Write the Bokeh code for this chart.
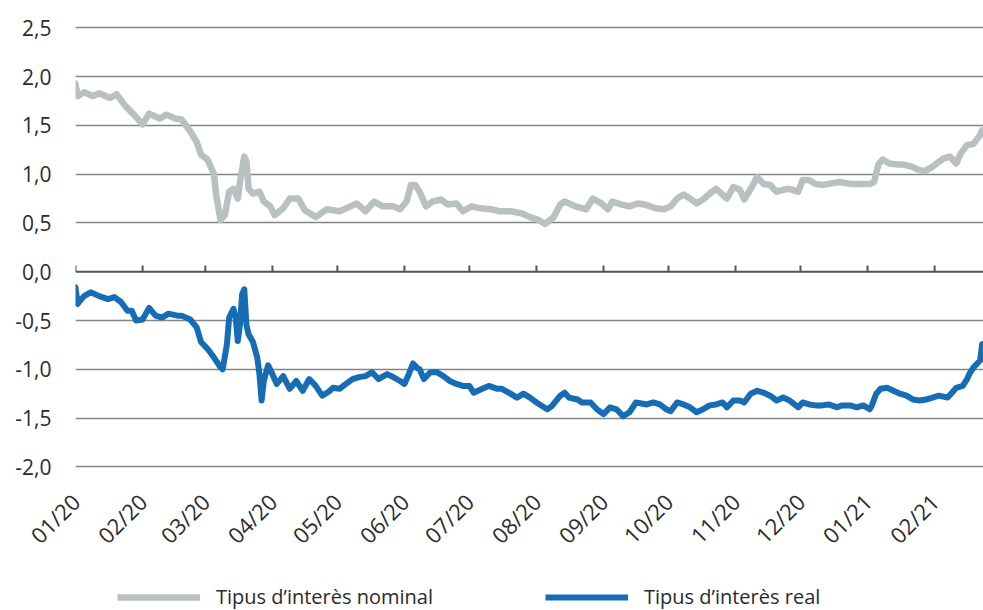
import math
import pandas as pd
from bokeh.plotting import figure
from bokeh.layouts import column
from bokeh.models import (Range1d, FixedTicker, Span, Legend, LegendItem,
                          DatetimeTickFormatter, ColumnDataSource)
from bokeh.embed import file_html
from bokeh.resources import INLINE

# --- Data -----------------------------------------------------------------
# Nominal interest rate (%)
nominal_dates = [
    "2020-01-01", "2020-01-02", "2020-01-05", "2020-01-09", "2020-01-12", "2020-01-17", "2020-01-20", "2020-01-24", "2020-01-28",
    "2020-02-01", "2020-02-04", "2020-02-09", "2020-02-12", "2020-02-16", "2020-02-19", "2020-02-23", "2020-02-26", "2020-02-28",
    "2020-03-02", "2020-03-05", "2020-03-06", "2020-03-08", "2020-03-10", "2020-03-12", "2020-03-14", "2020-03-16", "2020-03-17",
    "2020-03-19", "2020-03-20", "2020-03-21", "2020-03-23", "2020-03-26", "2020-03-28", "2020-03-31",
    "2020-04-02", "2020-04-06", "2020-04-09", "2020-04-13", "2020-04-16", "2020-04-21", "2020-04-26",
    "2020-05-02", "2020-05-07", "2020-05-10", "2020-05-14", "2020-05-18", "2020-05-22", "2020-05-27", "2020-05-30",
    "2020-06-02", "2020-06-04", "2020-06-06", "2020-06-08", "2020-06-11", "2020-06-14", "2020-06-18", "2020-06-21", "2020-06-25", "2020-06-28",
    "2020-07-02", "2020-07-06", "2020-07-11", "2020-07-15", "2020-07-20", "2020-07-25", "2020-07-29",
    "2020-08-02", "2020-08-05", "2020-08-09", "2020-08-12", "2020-08-14", "2020-08-19", "2020-08-24", "2020-08-27", "2020-08-31",
    "2020-09-03", "2020-09-05", "2020-09-09", "2020-09-13", "2020-09-17", "2020-09-20", "2020-09-25", "2020-09-29",
    "2020-10-02", "2020-10-05", "2020-10-08", "2020-10-11", "2020-10-14", "2020-10-17", "2020-10-20", "2020-10-23", "2020-10-26", "2020-10-28", "2020-10-31",
    "2020-11-03", "2020-11-05", "2020-11-08", "2020-11-11", "2020-11-14", "2020-11-17", "2020-11-20", "2020-11-23", "2020-11-26", "2020-11-30",
    "2020-12-02", "2020-12-05", "2020-12-08", "2020-12-11", "2020-12-14", "2020-12-19", "2020-12-24", "2020-12-29",
    "2021-01-02", "2021-01-04", "2021-01-06", "2021-01-08", "2021-01-11", "2021-01-15", "2021-01-17", "2021-01-21", "2021-01-24", "2021-01-27", "2021-01-30",
    "2021-02-02", "2021-02-05", "2021-02-08", "2021-02-11", "2021-02-13", "2021-02-16", "2021-02-19", "2021-02-22", "2021-02-23",
]
nominal_values = [
    1.93, 1.80, 1.84, 1.80, 1.83, 1.78, 1.82, 1.70, 1.61,
    1.51, 1.62, 1.57, 1.61, 1.57, 1.56, 1.44, 1.33, 1.20,
    1.15, 1.00, 0.79, 0.53, 0.58, 0.82, 0.85, 0.75, 0.92,
    1.18, 1.13, 0.85, 0.80, 0.82, 0.72, 0.67,
    0.58, 0.65, 0.75, 0.75, 0.63, 0.56, 0.64,
    0.62, 0.67, 0.70, 0.62, 0.72, 0.67, 0.67, 0.64,
    0.72, 0.89, 0.89, 0.82, 0.67, 0.72, 0.74, 0.69, 0.70, 0.62,
    0.67, 0.65, 0.64, 0.62, 0.62, 0.60, 0.56,
    0.53, 0.49, 0.56, 0.69, 0.72, 0.67, 0.64, 0.75, 0.70,
    0.64, 0.72, 0.69, 0.67, 0.70, 0.69, 0.65, 0.64,
    0.67, 0.75, 0.79, 0.75, 0.70, 0.74, 0.80, 0.85, 0.79, 0.75, 0.87,
    0.84, 0.74, 0.85, 0.97, 0.90, 0.89, 0.82, 0.84, 0.85, 0.82,
    0.94, 0.94, 0.90, 0.89, 0.90, 0.92, 0.90, 0.90,
    0.90, 0.92, 1.10, 1.15, 1.11, 1.10, 1.10, 1.08, 1.05, 1.03, 1.06,
    1.11, 1.16, 1.18, 1.11, 1.21, 1.30, 1.31, 1.40, 1.45,
]

# Real interest rate (%)
real_dates = [
    "2020-01-01", "2020-01-02", "2020-01-03", "2020-01-05", "2020-01-08", "2020-01-12", "2020-01-16", "2020-01-19", "2020-01-22", "2020-01-25", "2020-01-27", "2020-01-29",
    "2020-02-01", "2020-02-04", "2020-02-07", "2020-02-10", "2020-02-13", "2020-02-17", "2020-02-19", "2020-02-23", "2020-02-26", "2020-02-28",
    "2020-03-02", "2020-03-05", "2020-03-08", "2020-03-09", "2020-03-11", "2020-03-12", "2020-03-14", "2020-03-15", "2020-03-16", "2020-03-17",
    "2020-03-18", "2020-03-19", "2020-03-20", "2020-03-21", "2020-03-23", "2020-03-25", "2020-03-26", "2020-03-27", "2020-03-28", "2020-03-30",
    "2020-04-01", "2020-04-03", "2020-04-06", "2020-04-09", "2020-04-12", "2020-04-15", "2020-04-18", "2020-04-21", "2020-04-24", "2020-04-27", "2020-04-29",
    "2020-05-02", "2020-05-05", "2020-05-08", "2020-05-11", "2020-05-14", "2020-05-17", "2020-05-20", "2020-05-24", "2020-05-26", "2020-05-30",
    "2020-06-01", "2020-06-03", "2020-06-05", "2020-06-07", "2020-06-08", "2020-06-10", "2020-06-13", "2020-06-16", "2020-06-19", "2020-06-22", "2020-06-25", "2020-06-28",
    "2020-07-01", "2020-07-03", "2020-07-07", "2020-07-10", "2020-07-14", "2020-07-16", "2020-07-20", "2020-07-23", "2020-07-26", "2020-07-29",
    "2020-08-01", "2020-08-06", "2020-08-08", "2020-08-12", "2020-08-14", "2020-08-16", "2020-08-20", "2020-08-22", "2020-08-26", "2020-08-29",
    "2020-09-01", "2020-09-04", "2020-09-07", "2020-09-10", "2020-09-13", "2020-09-16", "2020-09-21", "2020-09-24", "2020-09-27", "2020-09-30",
    "2020-10-02", "2020-10-05", "2020-10-08", "2020-10-11", "2020-10-14", "2020-10-17", "2020-10-20", "2020-10-23", "2020-10-26", "2020-10-28", "2020-10-31",
    "2020-11-03", "2020-11-05", "2020-11-08", "2020-11-11", "2020-11-14", "2020-11-17", "2020-11-20", "2020-11-23", "2020-11-26", "2020-11-30",
    "2020-12-02", "2020-12-05", "2020-12-08", "2020-12-11", "2020-12-14", "2020-12-18", "2020-12-20", "2020-12-24", "2020-12-27", "2020-12-30",
    "2021-01-02", "2021-01-03", "2021-01-05", "2021-01-07", "2021-01-10", "2021-01-13", "2021-01-16", "2021-01-19", "2021-01-22", "2021-01-25", "2021-01-28", "2021-01-31",
    "2021-02-03", "2021-02-07", "2021-02-09", "2021-02-11", "2021-02-14", "2021-02-16", "2021-02-17", "2021-02-19", "2021-02-22", "2021-02-23",
]
real_values = [
    -0.16, -0.33, -0.30, -0.25, -0.21, -0.25, -0.28, -0.26, -0.31, -0.40, -0.40, -0.50,
    -0.49, -0.37, -0.45, -0.47, -0.43, -0.45, -0.45, -0.49, -0.57, -0.72,
    -0.79, -0.88, -0.98, -1.00, -0.74, -0.47, -0.38, -0.47, -0.71, -0.54,
    -0.23, -0.18, -0.55, -0.64, -0.72, -0.88, -1.05, -1.32, -1.12, -0.96,
    -1.05, -1.15, -1.07, -1.20, -1.12, -1.22, -1.10, -1.17, -1.27, -1.23, -1.19,
    -1.20, -1.15, -1.10, -1.08, -1.07, -1.03, -1.10, -1.05, -1.07, -1.12,
    -1.15, -1.05, -0.94, -0.99, -1.00, -1.10, -1.03, -1.03, -1.07, -1.12, -1.15, -1.17,
    -1.17, -1.24, -1.20, -1.17, -1.20, -1.20, -1.25, -1.29, -1.25, -1.29,
    -1.34, -1.41, -1.38, -1.27, -1.24, -1.29, -1.31, -1.34, -1.34, -1.41,
    -1.46, -1.39, -1.41, -1.48, -1.44, -1.34, -1.36, -1.34, -1.36, -1.41,
    -1.43, -1.34, -1.36, -1.39, -1.44, -1.41, -1.37, -1.36, -1.34, -1.39, -1.32,
    -1.32, -1.34, -1.25, -1.22, -1.24, -1.27, -1.32, -1.29, -1.32, -1.39,
    -1.34, -1.36, -1.37, -1.37, -1.36, -1.39, -1.37, -1.37, -1.39, -1.37,
    -1.41, -1.37, -1.25, -1.20, -1.19, -1.22, -1.25, -1.27, -1.31, -1.32, -1.31, -1.29,
    -1.27, -1.29, -1.24, -1.19, -1.17, -1.10, -1.05, -0.98, -0.91, -0.74,
]

# Axis ticks
month_ticks = ["2020-01-01", "2020-02-01", "2020-03-01", "2020-04-01", "2020-05-01", "2020-06-01", "2020-07-01",
               "2020-08-01", "2020-09-01", "2020-10-01", "2020-11-01", "2020-12-01", "2021-01-01", "2021-02-01"]
month_labels = ["01/20", "02/20", "03/20", "04/20", "05/20", "06/20", "07/20",
                "08/20", "09/20", "10/20", "11/20", "12/20", "01/21", "02/21"]
y_ticks = [-2.0, -1.5, -1.0, -0.5, 0.0, 0.5, 1.0, 1.5, 2.0, 2.5]
y_labels = ["-2,0", "-1,5", "-1,0", "-0,5", "0,0", "0,5", "1,0", "1,5", "2,0", "2,5"]

series_names = ["Tipus d\u2019interès nominal", "Tipus d\u2019interès real"]

# --- Styling ----------------------------------------------------------------
FONT = "Open Sans"
GREY = "#b9c0c1"
BLUE = "#176db5"
GRID = "#858585"
AXIS = "#555555"
TEXT = "#2b2b2b"
GREY_W = 6.5
BLUE_W = 6


def to_ms(d):
    return pd.Timestamp(d).value / 1e6


tick_ms = [to_ms(d) for d in month_ticks]

x_start = pd.Timestamp("2020-01-01")
x_end = pd.Timestamp("2021-02-23 14:00")

nom_src = ColumnDataSource(dict(x=pd.to_datetime(nominal_dates), y=nominal_values))
real_src = ColumnDataSource(dict(x=pd.to_datetime(real_dates), y=real_values))

# --- Main chart ---------------------------------------------------------------
p = figure(width=983, height=570, x_axis_type="datetime",
           x_range=Range1d(x_start, x_end), y_range=Range1d(-2.15, 2.78),
           output_backend="svg", toolbar_location=None,
           min_border_left=75, min_border_right=0, min_border_top=0,
           min_border_bottom=89)
p.outline_line_color = None
p.background_fill_color = "white"
p.border_fill_color = "white"

# horizontal gridlines
p.xgrid.visible = False
p.ygrid.ticker = FixedTicker(ticks=[t for t in y_ticks if t != 0.0])
p.ygrid.grid_line_color = GRID
p.ygrid.grid_line_width = 1.5

# zero line with month tick marks
p.add_layout(Span(location=0, dimension="width", line_color=AXIS, line_width=2.2))
tick_src = ColumnDataSource(dict(x=[pd.Timestamp(d) for d in month_ticks],
                                 y0=[0.0] * len(month_ticks),
                                 y1=[0.065] * len(month_ticks)))
p.segment(x0="x", y0="y0", x1="x", y1="y1", source=tick_src,
          line_color=AXIS, line_width=2)

# series
p.line("x", "y", source=nom_src, line_color=GREY, line_width=GREY_W,
       line_join="round", line_cap="round")
p.line("x", "y", source=real_src, line_color=BLUE, line_width=BLUE_W,
       line_join="round", line_cap="round")

# y axis
p.yaxis.ticker = FixedTicker(ticks=y_ticks)
p.yaxis.major_label_overrides = dict(zip(y_ticks, y_labels))
p.yaxis.axis_line_color = None
p.yaxis.major_tick_line_color = None
p.yaxis.minor_tick_line_color = None
p.yaxis.major_label_standoff = 18
p.yaxis.major_label_text_font = FONT
p.yaxis.major_label_text_font_size = "21px"
p.yaxis.major_label_text_color = TEXT

# x axis
p.xaxis.ticker = FixedTicker(ticks=tick_ms)
p.xaxis.formatter = DatetimeTickFormatter(days="%m/%y", months="%m/%y", years="%m/%y")
p.xaxis.major_label_overrides = dict(zip(tick_ms, month_labels))
p.xaxis.major_label_orientation = math.pi / 4
p.xaxis.axis_line_color = None
p.xaxis.major_tick_line_color = None
p.xaxis.minor_tick_line_color = None
p.xaxis.major_label_standoff = 10
p.xaxis.major_label_text_font = FONT
p.xaxis.major_label_text_font_size = "22px"
p.xaxis.major_label_text_color = TEXT

# --- Legend strip ---------------------------------------------------------------
# The strip's frame lines up with the chart frame (x = 75 px), so legend
# offsets below are measured from there.  Its own ranges keep the series
# out of view: only the legend keys are visible.
lf = figure(width=983, height=40, output_backend="svg", toolbar_location=None,
            x_range=Range1d(0, 1), y_range=Range1d(0, 1),
            min_border_left=0, min_border_right=0, min_border_top=0,
            min_border_bottom=0)
lf.axis.visible = False
lf.grid.visible = False
lf.outline_line_color = None
lf.border_fill_color = "white"

key_nom = lf.line("x", "y", source=nom_src, line_color=GREY, line_width=GREY_W)
key_real = lf.line("x", "y", source=real_src, line_color=BLUE, line_width=BLUE_W)

for renderer, name, xpos in [(key_nom, series_names[0], 42),
                             (key_real, series_names[1], 470)]:
    lf.add_layout(Legend(items=[LegendItem(label=name, renderers=[renderer])],
                         location=(xpos, 0), orientation="horizontal",
                         glyph_width=83, glyph_height=20, label_standoff=16,
                         padding=0, margin=0, border_line_color=None,
                         background_fill_alpha=0,
                         label_text_font=FONT, label_text_font_size="20px",
                         label_text_color=TEXT))

open("out.html", "w").write(file_html(column(p, lf, spacing=0), INLINE))
